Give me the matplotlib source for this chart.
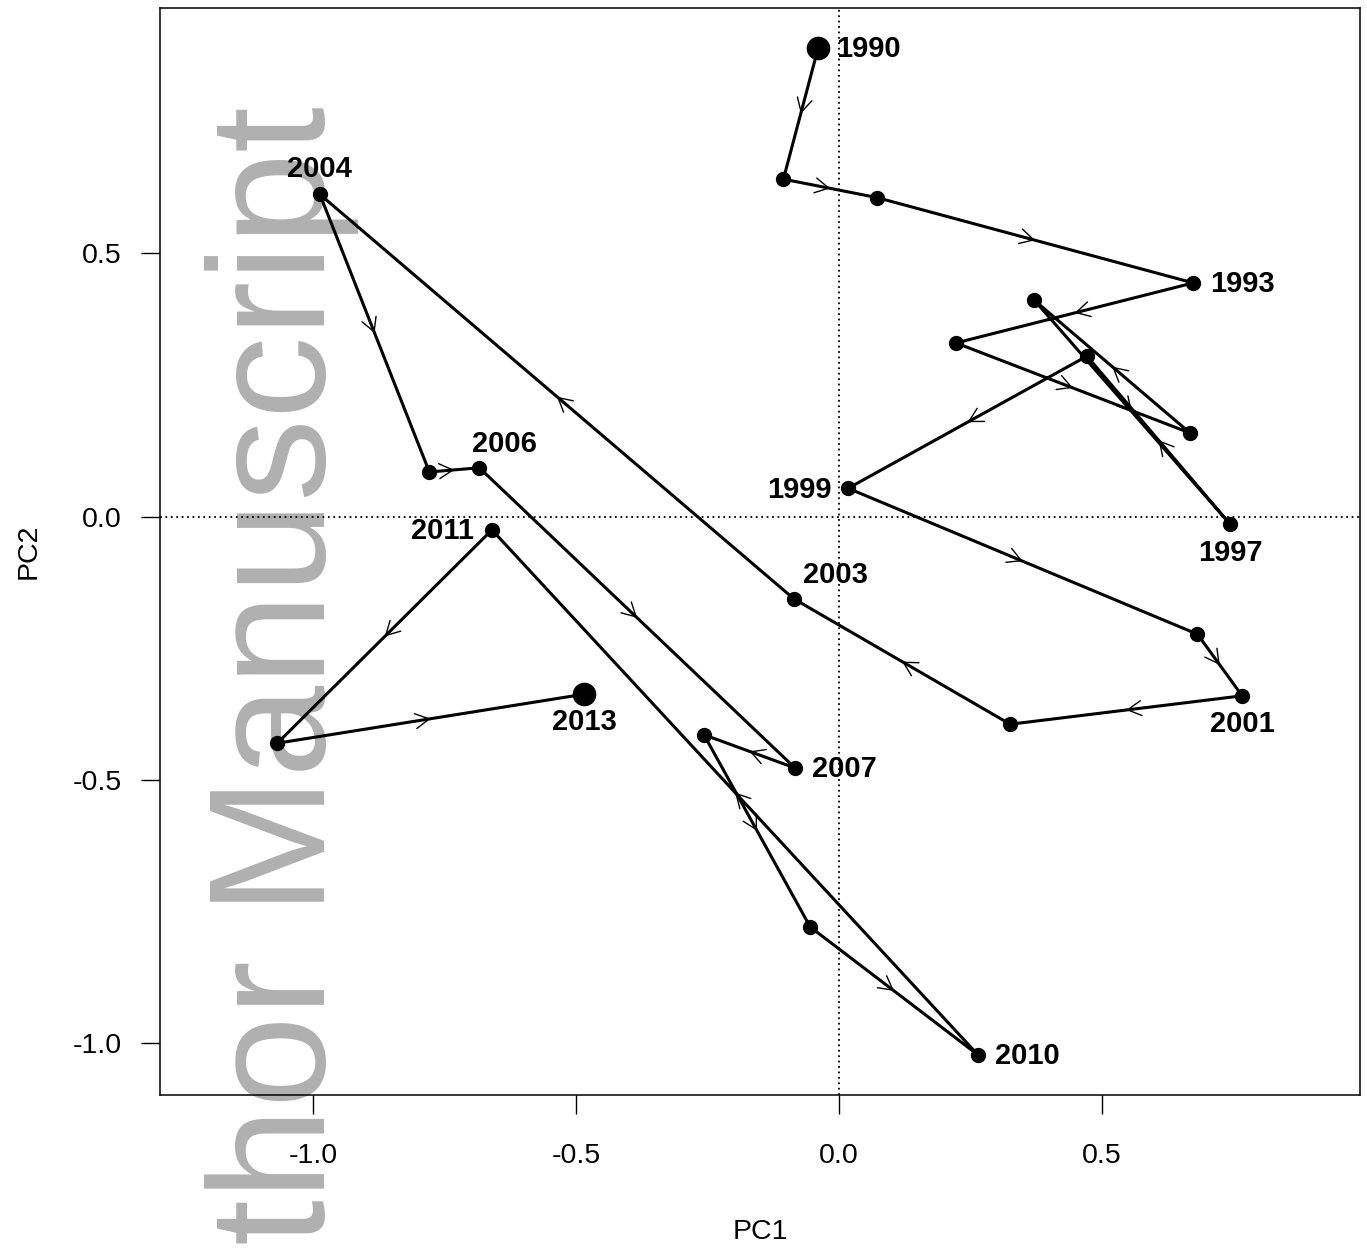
import matplotlib
matplotlib.use("Agg")
import matplotlib.pyplot as plt
import numpy as np

plt.rcParams['font.family'] = ['Liberation Sans', 'DejaVu Sans']

years = list(range(1990, 2014))
pc1 = [-0.040, -0.106, 0.072, 0.673, 0.222, 0.667, 0.371, 0.743, 0.471, 0.017,
       0.681, 0.766, 0.325, -0.086, -0.987, -0.779, -0.684, -0.084, -0.257, -0.055,
       0.264, -0.660, -1.068, -0.485]
pc2 = [0.890, 0.641, 0.606, 0.444, 0.330, 0.159, 0.411, -0.014, 0.305, 0.054,
       -0.223, -0.340, -0.394, -0.156, 0.612, 0.085, 0.093, -0.477, -0.414, -0.779,
       -1.022, -0.025, -0.430, -0.337]
labelled = [1990, 1993, 1997, 1999, 2001, 2003, 2004, 2006, 2007, 2010, 2011, 2013]
xticks = [-1.0, -0.5, 0.0, 0.5]
yticks = [-1.0, -0.5, 0.0, 0.5]

# label placement (offset in points, ha, va)
label_pos = {
    1990: ((13, -1), 'left', 'center'),
    1993: ((12, -1), 'left', 'center'),
    1997: ((0, -21), 'center', 'center'),
    1999: ((-12, -1), 'right', 'center'),
    2001: ((0, -20), 'center', 'center'),
    2003: ((30, 17), 'center', 'center'),
    2004: ((0, 18), 'center', 'center'),
    2006: ((18, 17), 'center', 'center'),
    2007: ((12, -1), 'left', 'center'),
    2010: ((12, -1), 'left', 'center'),
    2011: ((-13, -1), 'right', 'center'),
    2013: ((0, -20), 'center', 'center'),
}

fig = plt.figure(figsize=(13.67, 12.53), dpi=100)
fig.patch.set_facecolor('white')

# watermark behind everything
fig.text(325 / 1367, 1 - 1245 / 1253, 'thor Manuscript', rotation=90,
         rotation_mode='anchor', ha='left', va='baseline', fontsize=119,
         color='#b0b0b0', zorder=-5, family=['Liberation Sans', 'DejaVu Sans'])

ax = fig.add_axes([160 / 1367, 1 - 1095 / 1253, 1200 / 1367, 1087 / 1253])
ax.patch.set_alpha(0)
ax.set_xlim(-1.291, 0.990)
ax.set_ylim(-1.098, 0.966)

ax.axhline(0, color='black', lw=1.3, ls=(0, (1, 2)), zorder=1)
ax.axvline(0, color='black', lw=1.3, ls=(0, (1, 2)), zorder=1)

x = np.array(pc1)
y = np.array(pc2)
ax.plot(x, y, color='black', lw=2.2, zorder=2, solid_capstyle='round')

# arrowheads at segment midpoints
for i in range(len(x) - 1):
    mx, my = (x[i] + x[i + 1]) / 2, (y[i] + y[i + 1]) / 2
    dx, dy = x[i + 1] - x[i], y[i + 1] - y[i]
    d = np.hypot(dx, dy)
    ux, uy = dx / d, dy / d
    ax.annotate('', xy=(mx, my), xytext=(mx - 0.005 * ux, my - 0.005 * uy),
                arrowprops=dict(arrowstyle='->,head_length=0.55,head_width=0.3',
                                lw=1.0, color='black', shrinkA=0, shrinkB=0,
                                mutation_scale=18),
                zorder=3)

sizes = [16 if yr in (1990, 2013) else 10 for yr in years]
for xi, yi, s in zip(x, y, sizes):
    ax.plot(xi, yi, 'o', color='black', ms=s, zorder=4)

for yr in labelled:
    i = years.index(yr)
    off, ha, va = label_pos[yr]
    ax.annotate(str(yr), xy=(x[i], y[i]), xytext=off, textcoords='offset points',
                ha=ha, va=va, fontsize=21, fontweight='bold', zorder=5)

ax.set_xticks(xticks)
ax.set_yticks(yticks)
ax.set_xticklabels([f'{t:.1f}' for t in xticks])
ax.set_yticklabels([f'{t:.1f}' for t in yticks])
ax.tick_params(axis='both', direction='out', length=13.5, width=1.0,
               labelsize=20.5)
ax.tick_params(axis='x', pad=21)
ax.tick_params(axis='y', pad=14)
for sp in ax.spines.values():
    sp.set_linewidth(1.1)

ax.set_xlabel('PC1', fontsize=20.5, labelpad=36)
ax.set_ylabel('PC2', fontsize=20.5, labelpad=22)

fig.savefig('out.png', dpi=100, facecolor='white')
